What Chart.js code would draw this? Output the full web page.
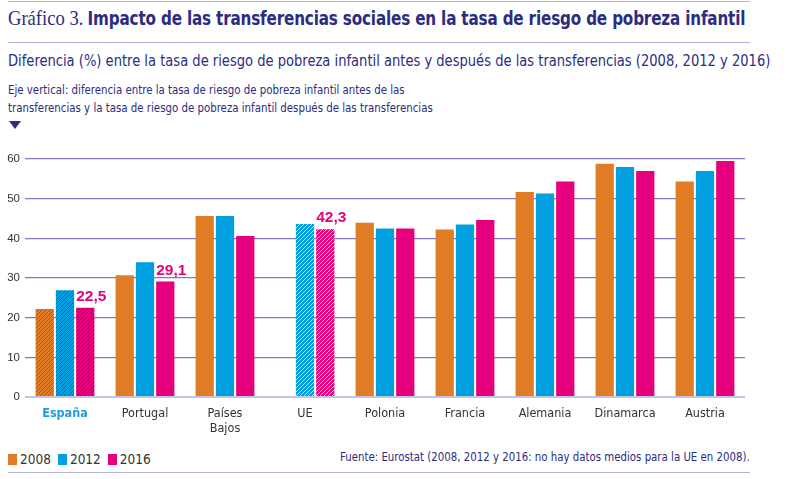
<!DOCTYPE html>
<html lang="es">
<head>
<meta charset="utf-8">
<script src="https://cdn.jsdelivr.net/npm/chart.js@4/dist/chart.umd.min.js"></script>
<style>
  body { margin: 0; width: 800px; height: 479px; background: #fff; position: relative; overflow: hidden;
         font-family: "DejaVu Sans Condensed", sans-serif; color: #2b2d80; }
  .rule { position: absolute; left: 8px; width: 742px; height: 0; border-top: 1.5px solid #b3b2dc; }
  .fit { position: absolute; white-space: nowrap; transform-origin: left top; }
  #title { left: 8px; top: 5px; font-size: 20px; }
  #title .num { font-family: "Liberation Serif", serif; font-size: 22px; }
  #title b { font-weight: bold; margin-left: 5px; letter-spacing: -0.2px; }
  #subtitle { left: 8px; top: 51px; font-size: 16px; }
  #axisnote { left: 8px; top: 81px; font-size: 12.5px; line-height: 18px; }
  #tri { position: absolute; left: 9px; top: 121px; width: 0; height: 0;
         border-left: 6px solid transparent; border-right: 6px solid transparent; border-top: 8px solid #2b2d80; }
  #wrap { position: absolute; left: 0; top: 140px; width: 800px; height: 300px; }
  #legend { position: absolute; left: 8px; top: 451px; font-size: 13.5px; color: #333; white-space: nowrap; }
  #legend span.sw { display: inline-block; width: 9px; height: 11px; margin-right: 3px; vertical-align: -1px; }
  #legend span.it { margin-right: 7px; }
  #source { left: 340px; top: 449px; font-size: 13px; }
</style>
</head>
<body>
<div class="rule" style="top:1px"></div>
<div id="title" class="fit" data-w="737"><span class="num">Gráfico 3.</span><b>Impacto de las transferencias sociales en la tasa de riesgo de pobreza infantil</b></div>
<div class="rule" style="top:42px"></div>
<div id="subtitle" class="fit" data-w="762">Diferencia (%) entre la tasa de riesgo de pobreza infantil antes y después de las transferencias (2008, 2012 y 2016)</div>
<div id="axisnote" class="fit" data-w="425">Eje vertical: diferencia entre la tasa de riesgo de pobreza infantil antes de las<br>transferencias y la tasa de riesgo de pobreza infantil después de las transferencias</div>
<div id="tri"></div>
<div id="wrap"><canvas id="chart"></canvas></div>
<div id="legend"></div>
<div id="source" class="fit" data-w="410">Fuente: Eurostat (2008, 2012 y 2016: no hay datos medios para la UE en 2008).</div>
<div class="rule" style="top:472px"></div>

<script>
// Datos
const paises = ['España', 'Portugal', ['Países', 'Bajos'], 'UE', 'Polonia', 'Francia', 'Alemania', 'Dinamarca', 'Austria'];
const years = ['2008', '2012', '2016'];
const v2008 = [22.2, 30.7, 45.6, null, 43.9, 42.2, 51.7, 58.8, 54.3];
const v2012 = [26.9, 34.0, 45.6, 43.6, 42.5, 43.5, 51.3, 58.0, 57.0];
const v2016 = [22.5, 29.1, 40.6, 42.3, 42.5, 44.6, 54.3, 57.0, 59.5];
const yTicks = [0, 10, 20, 30, 40, 50, 60];
const labelled = [0, 1, 3]; // barras 2016 con cifra

const colors = ['#e07b26', '#009fe0', '#e6007e'];
const hatchDark = ['#a85a1a', '#0a6fa8', '#a8005c'];

function hatch(base, line) {
  const c = document.createElement('canvas');
  c.width = 4; c.height = 4;
  const g = c.getContext('2d');
  g.fillStyle = base; g.fillRect(0, 0, 4, 4);
  g.strokeStyle = line; g.lineWidth = 1;
  g.beginPath();
  g.moveTo(0, 4); g.lineTo(4, 0);
  g.moveTo(-1, 1); g.lineTo(1, -1);
  g.moveTo(3, 5); g.lineTo(5, 3);
  g.stroke();
  return g.createPattern(c, 'repeat');
}

function fillFor(i) {
  const dark = hatch(colors[i], hatchDark[i]);
  const light = hatch(colors[i], 'rgba(255,255,255,0.7)');
  return ctx => ctx.dataIndex === 0 ? dark : ctx.dataIndex === 3 ? light : colors[i];
}

const fmt = v => v.toFixed(1).replace('.', ',');

const valueLabels = {
  id: 'valueLabels',
  afterDatasetsDraw(chart) {
    const meta = chart.getDatasetMeta(2);
    const c = chart.ctx;
    c.save();
    c.font = 'bold 15.5px "Liberation Sans", sans-serif';
    c.fillStyle = colors[2];
    c.textBaseline = 'middle';
    c.textAlign = 'left';
    for (const i of labelled) {
      const bar = meta.data[i];
      c.fillText(fmt(v2016[i]), bar.x - bar.width / 2, bar.y - 11);
    }
    c.restore();
  }
};

const series = [v2008, v2012, v2016];
new Chart(document.getElementById('chart'), {
  type: 'bar',
  data: {
    labels: paises,
    datasets: series.map((d, i) => ({
      label: years[i], data: d,
      backgroundColor: fillFor(i),
      borderWidth: 0,
      categoryPercentage: 0.76, barPercentage: 0.9
    }))
  },
  options: {
    responsive: true, maintainAspectRatio: false, animation: false,
    layout: { padding: { top: 19, right: 55, left: 0, bottom: 0 } },
    plugins: { legend: { display: false }, tooltip: { enabled: false } },
    scales: {
      x: {
        grid: { display: false },
        border: { display: false },
        ticks: {
          padding: 1, maxRotation: 0, autoSkip: false,
          color: ctx => ctx.index === 0 ? '#1a9fdc' : '#333',
          font: ctx => ({ family: '"DejaVu Sans Condensed", sans-serif', size: 12.5,
                          weight: ctx.index === 0 ? 'bold' : 'normal', lineHeight: 1.2 })
        },
        afterFit: s => { s.height = 43; }
      },
      y: {
        min: 0, max: 60,
        afterBuildTicks: s => { s.ticks = yTicks.map(v => ({ value: v })); },
        border: { display: false },
        grid: {
          drawTicks: false,
          color: ctx => ctx.tick && ctx.tick.value === 0 ? '#c4c3e8' : '#7c7bc2',
          lineWidth: ctx => ctx.tick && ctx.tick.value === 0 ? 2 : 1.3
        },
        ticks: { padding: 5, color: '#333', font: { family: '"Liberation Sans", sans-serif', size: 11.5 } },
        afterFit: s => { s.width = 25; }
      }
    }
  },
  plugins: [valueLabels]
});

document.getElementById('legend').innerHTML = years.map((y, i) =>
  `<span class="it"><span class="sw" style="background:${colors[i]}"></span>${y}</span>`).join('');

// ajustar textos al ancho del original
document.querySelectorAll('.fit').forEach(el => {
  const w = +el.dataset.w;
  el.style.transform = `scaleX(${w / el.offsetWidth})`;
});
</script>
</body>
</html>
